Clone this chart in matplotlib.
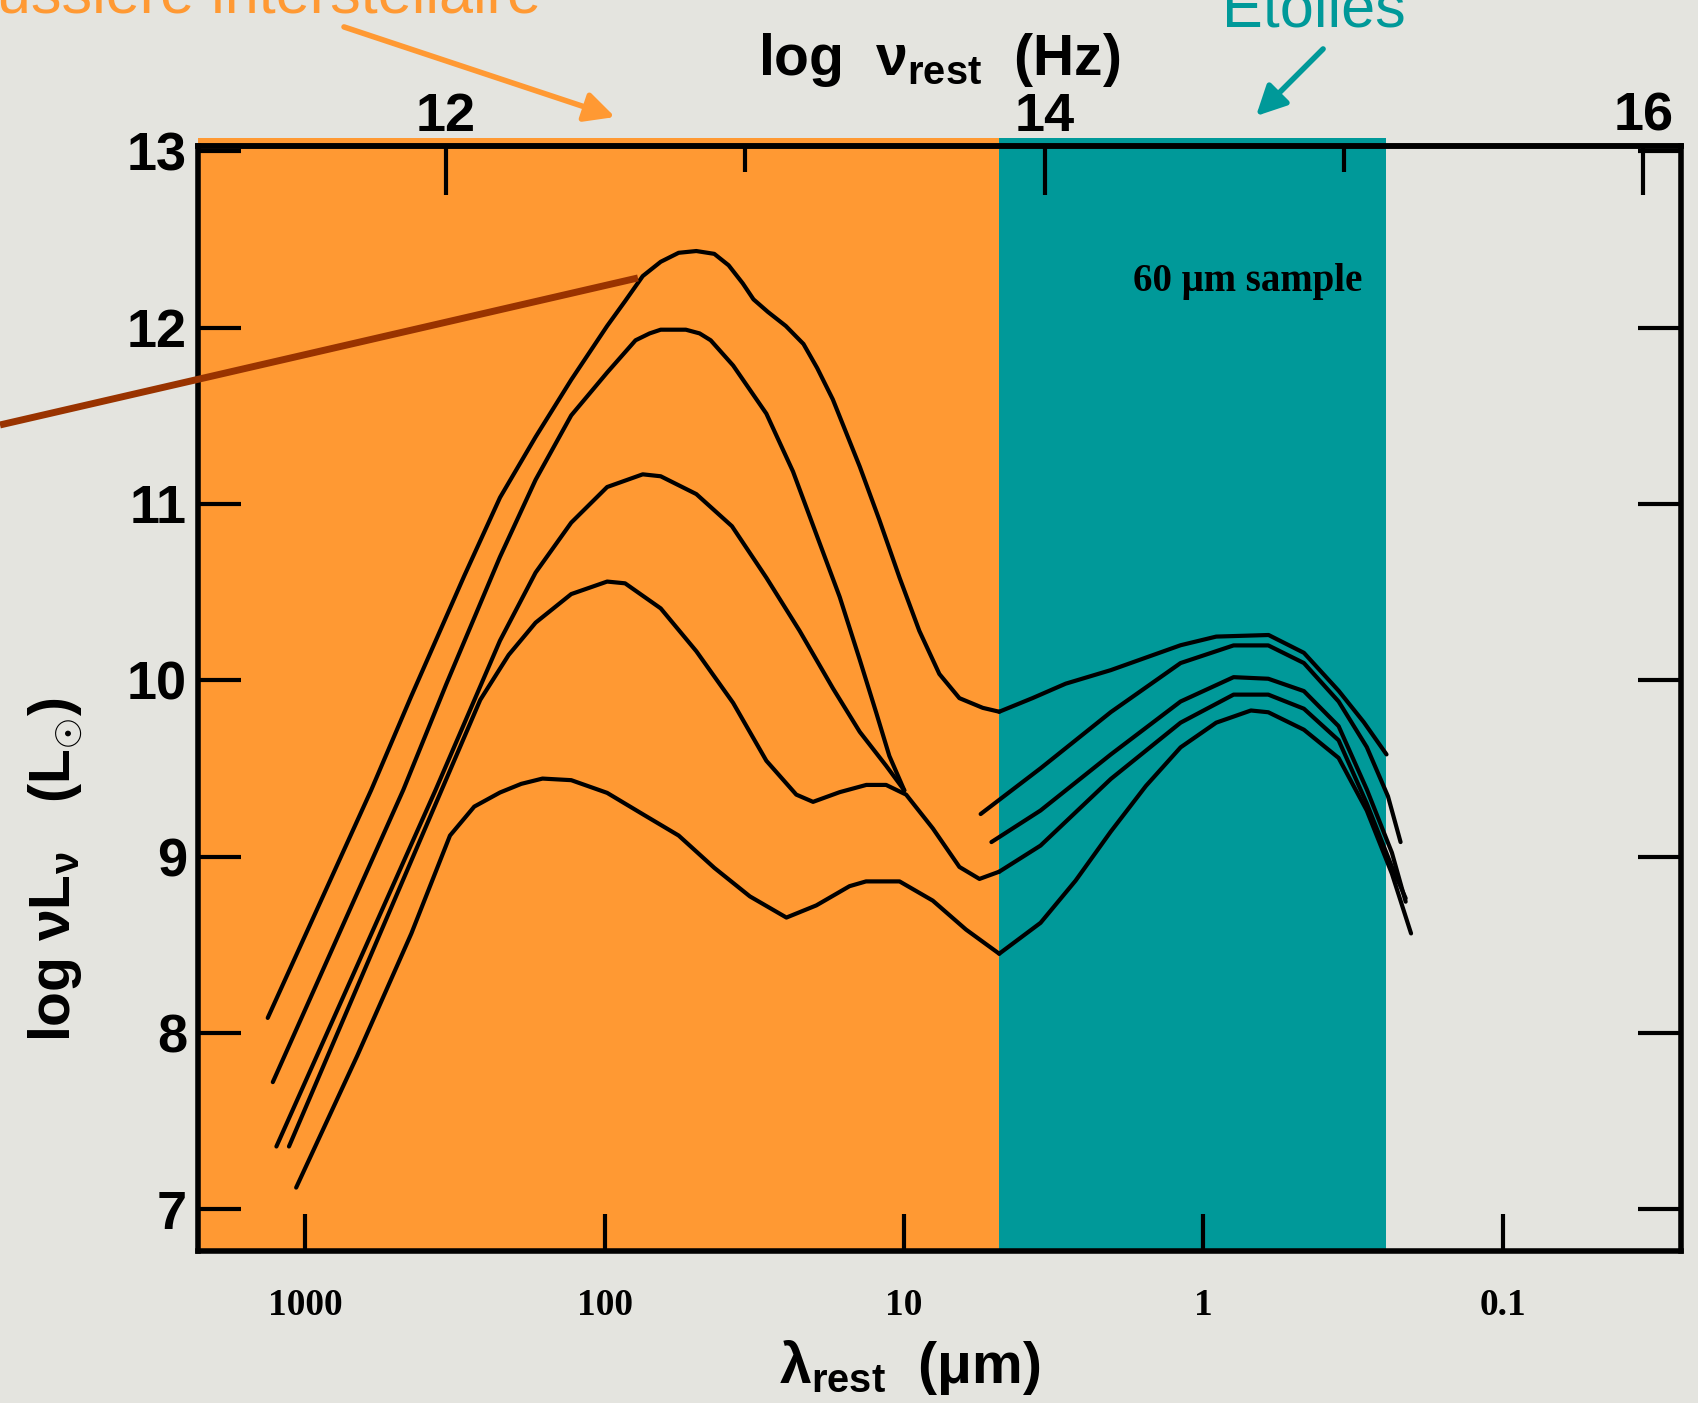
import numpy as np
import matplotlib.pyplot as plt
from matplotlib.lines import Line2D
from matplotlib.patches import FancyArrowPatch
from matplotlib.ticker import NullLocator, NullFormatter

# Spectral energy distributions (60 um sample).
# x = log10(rest wavelength / um), y = log10(nu L_nu / L_sun)
# "dust" = far/mid-IR part, "star" = near-IR/optical part
sed1_dust_lam = [3.126, 2.780, 2.649, 2.470, 2.350, 2.231, 2.112, 1.992, 1.932, 1.873, 1.813,
                 1.753, 1.694, 1.634, 1.586, 1.539, 1.503, 1.455, 1.395, 1.336, 1.290, 1.238,
                 1.148, 1.083, 1.015, 0.949, 0.882, 0.815, 0.737, 0.682]
sed1_dust_lum = [8.086, 9.379, 9.900, 10.590, 11.036, 11.380, 11.704, 12.009, 12.150, 12.292, 12.373,
                 12.424, 12.434, 12.418, 12.353, 12.251, 12.160, 12.089, 12.009, 11.907, 11.770, 11.593,
                 11.212, 10.912, 10.582, 10.281, 10.036, 9.899, 9.844, 9.822]
sed1_star_lam = [0.682, 0.571, 0.460, 0.309, 0.076, -0.043, -0.218, -0.336, -0.452, -0.536, -0.612]
sed1_star_lum = [9.822, 9.899, 9.981, 10.058, 10.199, 10.248, 10.257, 10.156, 9.941, 9.763, 9.580]

sed2_dust_lam = [3.109, 2.673, 2.529, 2.350, 2.231, 2.112, 1.992, 1.897, 1.850, 1.813, 1.729,
                 1.683, 1.646, 1.571, 1.460, 1.371, 1.293, 1.215, 1.148, 1.093, 1.049, 0.999]
sed2_dust_lum = [7.722, 9.379, 9.980, 10.700, 11.137, 11.502, 11.745, 11.928, 11.967, 11.988, 11.988,
                 11.967, 11.928, 11.785, 11.512, 11.184, 10.828, 10.473, 10.117, 9.817, 9.571, 9.376]
sed2_star_lam = [0.744, 0.544, 0.309, 0.076, -0.101, -0.217, -0.336, -0.452, -0.546, -0.617, -0.659]
sed2_star_lum = [9.242, 9.501, 9.820, 10.098, 10.198, 10.198, 10.098, 9.880, 9.622, 9.342, 9.083]

sed3_dust_lam = [3.097, 2.565, 2.350, 2.231, 2.112, 1.992, 1.873, 1.813, 1.694, 1.575, 1.460,
                 1.349, 1.237, 1.148, 1.060, 0.999]
sed3_dust_lum = [7.357, 9.379, 10.225, 10.611, 10.894, 11.096, 11.168, 11.157, 11.056, 10.874, 10.582,
                 10.281, 9.953, 9.708, 9.516, 9.376]
sed3_star_lam = [0.708, 0.544, 0.309, 0.076, -0.101, -0.217, -0.336, -0.452, -0.546, -0.630, -0.676]
sed3_star_lum = [9.083, 9.262, 9.580, 9.880, 10.018, 10.009, 9.939, 9.740, 9.382, 9.023, 8.745]

sed4_dust_lam = [3.055, 2.755, 2.416, 2.321, 2.231, 2.112, 1.992, 1.932, 1.813, 1.694, 1.571,
                 1.460, 1.360, 1.304, 1.215, 1.126, 1.060, 0.993, 0.904, 0.815, 0.748, 0.682]
sed4_dust_lum = [7.357, 8.547, 9.889, 10.144, 10.327, 10.489, 10.560, 10.550, 10.408, 10.165, 9.872,
                 9.544, 9.352, 9.311, 9.366, 9.407, 9.407, 9.352, 9.161, 8.942, 8.874, 8.915]
sed4_star_lam = [0.682, 0.544, 0.309, 0.076, -0.101, -0.217, -0.336, -0.452, -0.546, -0.630, -0.676]
sed4_star_lum = [8.915, 9.063, 9.441, 9.760, 9.919, 9.919, 9.839, 9.660, 9.302, 8.943, 8.764]

sed5_dust_lam = [3.031, 2.827, 2.646, 2.517, 2.436, 2.350, 2.279, 2.208, 2.112, 1.992, 1.873,
                 1.753, 1.634, 1.515, 1.393, 1.293, 1.182, 1.127, 1.015, 0.904, 0.793, 0.682]
sed5_dust_lum = [7.124, 7.871, 8.565, 9.120, 9.284, 9.364, 9.413, 9.443, 9.434, 9.362, 9.241,
                 9.120, 8.937, 8.775, 8.655, 8.724, 8.833, 8.860, 8.860, 8.751, 8.587, 8.450]
sed5_star_lam = [0.682, 0.544, 0.427, 0.309, 0.192, 0.076, -0.043, -0.159, -0.217, -0.336, -0.452,
                 -0.546, -0.630, -0.694]
sed5_star_lum = [8.450, 8.625, 8.864, 9.143, 9.401, 9.620, 9.760, 9.829, 9.819, 9.720, 9.560,
                 9.262, 8.904, 8.565]

# wavelength bands highlighted on the slide (um)
dust_band = (10 ** 3.359, 4.83)
star_band = (4.83, 0.2445)

lam_ticks = [1000, 100, 10, 1, 0.1]
lam_ticklabels = ['1000', '100', '10', '1', '0.1']
lognu_ticks = [12, 14, 16]
lognu_minor = [13, 15]
C_NU = 10 ** 14.53  # lambda * nu, matching the top scale as drawn in the source

BG = '#e4e4df'
ORANGE = '#ff9933'
TEAL = '#009999'
BROWN = '#993300'

plt.rcParams['mathtext.fontset'] = 'custom'
plt.rcParams['mathtext.rm'] = 'Liberation Sans'
plt.rcParams['mathtext.bf'] = 'Liberation Sans:bold'
plt.rcParams['mathtext.it'] = 'Liberation Sans:italic'

fig = plt.figure(figsize=(16.98, 14.03), dpi=100, facecolor=BG)
ax = fig.add_axes([0.1166, 0.1084, 0.8734, 0.7876])
ax.set_facecolor(BG)
ax.set_xscale('log')
ax.set_xlim(10 ** 3.359, 10 ** -1.596)
ax.set_ylim(6.765, 13.03)

# coloured bands (stick out a little above the frame, like on the slide)
ax.axvspan(*dust_band, ymin=0, ymax=1.007, color=ORANGE, lw=0, clip_on=False, zorder=0)
ax.axvspan(*star_band, ymin=0, ymax=1.007, color=TEAL, lw=0, clip_on=False, zorder=0)

seds = [
    (sed1_dust_lam, sed1_dust_lum, sed1_star_lam, sed1_star_lum),
    (sed2_dust_lam, sed2_dust_lum, sed2_star_lam, sed2_star_lum),
    (sed3_dust_lam, sed3_dust_lum, sed3_star_lam, sed3_star_lum),
    (sed4_dust_lam, sed4_dust_lum, sed4_star_lam, sed4_star_lum),
    (sed5_dust_lam, sed5_dust_lum, sed5_star_lam, sed5_star_lum),
]
for dl, dL, sl, sL in seds:
    for lam, lum in ((dl, dL), (sl, sL)):
        ax.plot(10 ** np.array(lam), lum, color='black', lw=3, solid_capstyle='round',
                solid_joinstyle='round', zorder=3)

ax.text(10 ** -0.532, 12.263, '60 μm sample', family='Liberation Serif', weight='bold',
        fontsize=28, ha='right', va='center', zorder=4)

# axes frame and ticks
for s in ax.spines.values():
    s.set_linewidth(4)
ax.set_xticks(lam_ticks, labels=lam_ticklabels)
ax.xaxis.set_minor_locator(NullLocator())
ax.tick_params(axis='x', which='major', direction='in', length=27, width=3,
               top=False, pad=27, labelsize=27)
for lab in ax.get_xticklabels():
    lab.set_fontfamily('Liberation Serif')
    lab.set_fontweight('bold')
ax.set_yticks(range(7, 14))
ax.tick_params(axis='y', direction='in', length=31, width=3, left=True, right=True,
               pad=8, labelsize=39)
for lab in ax.get_yticklabels():
    lab.set_fontfamily('Liberation Sans')
    lab.set_fontweight('bold')


def swap(x):
    x = np.asarray(x, dtype=float)
    with np.errstate(divide='ignore'):
        return C_NU / x


secax = ax.secondary_xaxis('top', functions=(swap, swap))
secax.set_xticks([10.0 ** t for t in lognu_ticks], labels=[str(t) for t in lognu_ticks])
secax.set_xticks([10.0 ** t for t in lognu_minor], minor=True)
secax.xaxis.set_minor_formatter(NullFormatter())
secax.tick_params(which='major', direction='in', length=35, width=3, pad=3, labelsize=39)
secax.tick_params(which='minor', direction='in', length=19, width=3)
secax.spines['top'].set_linewidth(4)
for lab in secax.get_xticklabels():
    lab.set_fontfamily('Liberation Sans')
    lab.set_fontweight('bold')
secax.set_xlabel(r'$\mathbf{log\ \ \nu_{rest}\ \ (Hz)}$', fontsize=41, labelpad=12)

ax.set_xlabel(r'$\mathbf{\lambda_{rest}\ \ (\mu m)}$', fontsize=41, va='top')
ax.xaxis.set_label_coords(0.48, -0.079)
ax.set_ylabel(r'$\mathbf{log\ \nu L_{\nu}\ \ \ (L_{\odot})}$', fontsize=41)
ax.yaxis.set_label_coords(-0.077, 0.345)

# slide annotations
fig.text(0.3189, 0.9907, 'Poussière interstellaire', color=ORANGE, fontsize=44,
         family='Liberation Sans', ha='right', va='baseline')
fig.text(0.7736, 0.9808, 'Etoiles', color=TEAL, fontsize=44,
         family='Liberation Sans', ha='center', va='baseline')
fig.add_artist(FancyArrowPatch((0.2026, 0.9808), (0.3622, 0.9166), transform=fig.transFigure,
                               arrowstyle='-|>', mutation_scale=45, lw=4, color=ORANGE,
                               shrinkA=0, shrinkB=0))
fig.add_artist(FancyArrowPatch((0.7792, 0.9651), (0.7397, 0.9173), transform=fig.transFigure,
                               arrowstyle='-|>', mutation_scale=45, lw=4, color=TEAL,
                               shrinkA=0, shrinkB=0))
fig.add_artist(Line2D([0.0, 0.3757], [0.6971, 0.8019], transform=fig.transFigure,
                      color=BROWN, lw=5, solid_capstyle='butt'))

fig.savefig('out.png', dpi=100, facecolor=BG)
